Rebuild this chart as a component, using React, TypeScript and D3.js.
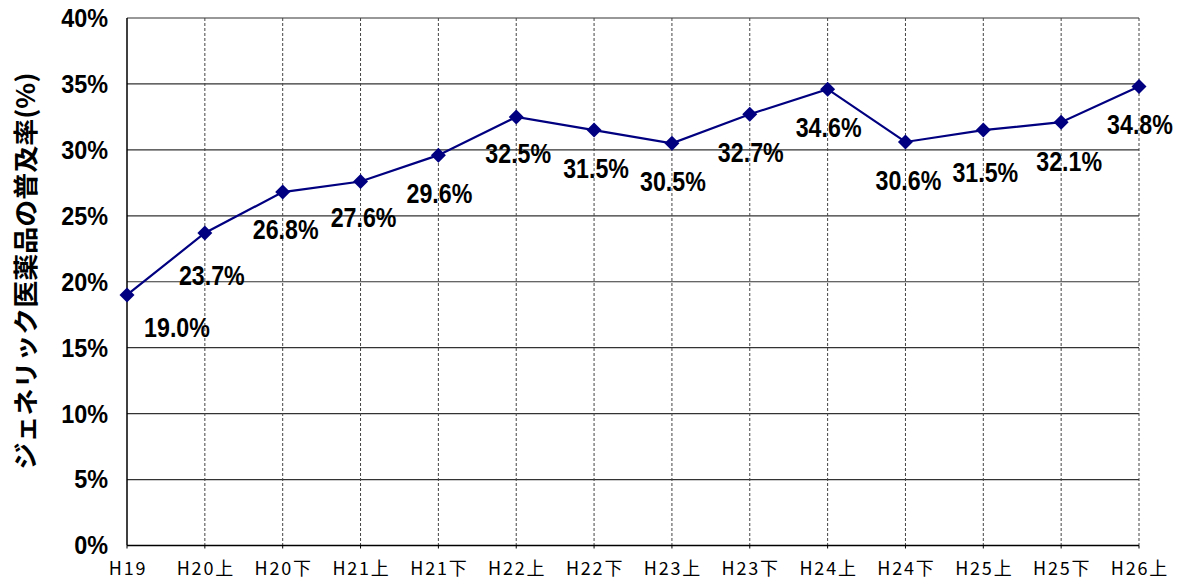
import React, { useRef, useEffect } from "react";
import * as d3 from "d3";

const periods = [
  "H19", "H20上", "H20下", "H21上", "H21下", "H22上", "H22下",
  "H23上", "H23下", "H24上", "H24下", "H25上", "H25下", "H26上",
];
const rates = [19.0, 23.7, 26.8, 27.6, 29.6, 32.5, 31.5, 30.5, 32.7, 34.6, 30.6, 31.5, 32.1, 34.8];
const yTicks = [0, 5, 10, 15, 20, 25, 30, 35, 40];
const yTitle = "ジェネリック医薬品の普及率(%)";

// label placement offsets (px) relative to each point
const labelDx = [50, 7, 3, 3, 1, 2, 2, 1, 1, 1, 3, 2, 8, 1];
const labelDy = [32, 42, 37, 36, 38, 36, 38, 38, 38, 38, 38, 42, 39, 38];

const App = () => {
  const ref = useRef<SVGSVGElement>(null);

  useEffect(() => {
    const w = 1183;
    const h = 580;
    const left = 127, right = 1139, top = 18, bottom = 545.5;

    const svg = d3.select(ref.current);
    svg.selectAll("*").remove();
    svg.attr("width", w).attr("height", h);

    const x = d3.scalePoint<string>().domain(periods).range([left, right]);
    const y = d3.scaleLinear().domain([0, 40]).range([bottom, top]);

    // horizontal grid
    svg.append("g")
      .selectAll("line")
      .data(yTicks.filter(t => t > 0))
      .join("line")
      .attr("x1", left).attr("x2", right)
      .attr("y1", d => y(d)).attr("y2", d => y(d))
      .attr("stroke", "#333").attr("stroke-width", 1.2);

    // vertical dashed grid
    svg.append("g")
      .selectAll("line")
      .data(periods.slice(1))
      .join("line")
      .attr("x1", d => x(d)!).attr("x2", d => x(d)!)
      .attr("y1", top).attr("y2", bottom)
      .attr("stroke", "#444").attr("stroke-width", 1)
      .attr("stroke-dasharray", "3,2");

    // axes
    svg.append("line")
      .attr("x1", left).attr("x2", left).attr("y1", top).attr("y2", bottom)
      .attr("stroke", "#000").attr("stroke-width", 1.5);
    svg.append("line")
      .attr("x1", left).attr("x2", right).attr("y1", bottom).attr("y2", bottom)
      .attr("stroke", "#000").attr("stroke-width", 1.5);
    svg.append("g")
      .selectAll("line")
      .data(periods)
      .join("line")
      .attr("x1", d => x(d)!).attr("x2", d => x(d)!)
      .attr("y1", bottom).attr("y2", bottom + 3)
      .attr("stroke", "#000");

    // y tick labels
    svg.append("g")
      .selectAll("text")
      .data(yTicks)
      .join("text")
      .attr("transform", d => `translate(108, ${y(d)}) scale(0.9, 1)`)
      .attr("text-anchor", "end")
      .attr("dominant-baseline", "central")
      .attr("font-family", "'Liberation Sans', Arial, sans-serif")
      .attr("font-weight", "bold")
      .attr("font-size", 26)
      .attr("fill", "#000")
      .text(d => `${d}%`);

    // x tick labels
    svg.append("g")
      .selectAll("text")
      .data(periods)
      .join("text")
      .attr("x", d => x(d)! + 1)
      .attr("y", 575)
      .attr("text-anchor", "middle")
      .attr("font-family", "'Noto Sans CJK JP', sans-serif")
      .attr("font-size", 18)
      .attr("letter-spacing", "1.8px")
      .attr("fill", "#000")
      .text(d => d);

    // y title
    svg.append("text")
      .attr("transform", `translate(24, 271) rotate(-90)`)
      .attr("text-anchor", "middle")
      .attr("dominant-baseline", "central")
      .attr("font-family", "'Noto Sans CJK JP', sans-serif")
      .attr("font-weight", "bold")
      .attr("font-size", 25)
      .attr("textLength", 397)
      .attr("lengthAdjust", "spacingAndGlyphs")
      .attr("fill", "#000")
      .text(yTitle);

    // line
    const line = d3.line<number>()
      .x((d, i) => x(periods[i])!)
      .y(d => y(d));
    svg.append("path")
      .datum(rates)
      .attr("d", line)
      .attr("fill", "none")
      .attr("stroke", "#000080")
      .attr("stroke-width", 2.2);

    // markers
    svg.append("g")
      .selectAll("path")
      .data(rates)
      .join("path")
      .attr("transform", (d, i) => `translate(${x(periods[i])}, ${y(d)}) rotate(45)`)
      .attr("d", "M-5.3,-5.3H5.3V5.3H-5.3Z")
      .attr("fill", "#000080");

    // data labels
    svg.append("g")
      .selectAll("text")
      .data(rates)
      .join("text")
      .attr("transform", (d, i) =>
        `translate(${x(periods[i])! + labelDx[i]}, ${y(d) + labelDy[i]}) scale(0.86, 1)`)
      .attr("text-anchor", "middle")
      .attr("dominant-baseline", "central")
      .attr("font-family", "'Liberation Sans', Arial, sans-serif")
      .attr("font-size", 27)
      .attr("font-weight", "bold")
      .attr("fill", "#000")
      .text(d => `${d.toFixed(1)}%`);
  }, []);

  return (
    <svg
      ref={ref}
      style={{ position: "absolute", left: 0, top: 0, background: "#fff" }}
    />
  );
};

export default App;
